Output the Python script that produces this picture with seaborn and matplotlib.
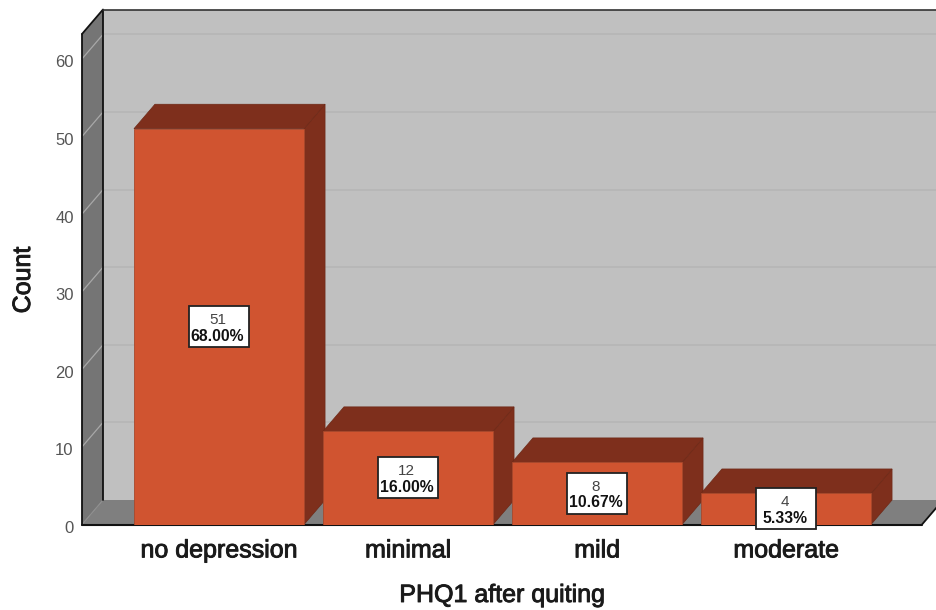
import matplotlib
matplotlib.use("Agg")
import matplotlib.pyplot as plt
import matplotlib.patheffects as pe
from matplotlib.patches import Polygon, Rectangle
from matplotlib.transforms import ScaledTranslation
import seaborn as sns

categories = ["no depression", "minimal", "mild", "moderate"]
counts = [51, 12, 8, 4]
percents = ["68.00%", "16.00%", "10.67%", "5.33%"]
y_ticks = [0, 10, 20, 30, 40, 50, 60]

FRONT = "#d05430"
SHADE = "#7e2f1c"
WALL = "#c0c0c0"
GRID = "#b7b7b7"
SIDE_WALL = "#757575"
FLOOR = "#7f7f7f"
FONT = "Liberation Sans"

sns.set_theme(style="white")
plt.rcParams["font.family"] = [FONT, "DejaVu Sans"]

W, H = 936, 610
fig = plt.figure(figsize=(W / 100, H / 100), dpi=100, facecolor="white")

# Front plane of the 3D box, laid out in pixels
left, right, base, top = 82, 922, 524.5, 34
ax = fig.add_axes([left / W, (H - base) / H, (right - left) / W, (base - top) / H])
ax.patch.set_visible(False)

sns.barplot(x=categories, y=counts, width=0.9, color=FRONT, saturation=1,
            edgecolor="#a8482b", linewidth=0.6, zorder=4, ax=ax)

step = 189.0
unit = 7.76
ax.set_xlim((left - 219) / step, (right - 219) / step)
ax.set_ylim(0, (base - top) / unit)
xmin, xmax = ax.get_xlim()
ymax = ax.get_ylim()[1]

# Depth of the box, expressed in data units
dx = 21 / step
dy = 24.5 / unit


def poly(pts, face, z, edge="none", lw=0):
    ax.add_patch(Polygon(pts, closed=True, facecolor=face, edgecolor=edge,
                         linewidth=lw, zorder=z, clip_on=False))


def line(xs, ys, color, lw, z):
    ax.plot(xs, ys, color=color, lw=lw, zorder=z, clip_on=False,
            solid_capstyle="round")


# Box walls
poly([(xmin + dx, dy), (xmax + dx, dy), (xmax + dx, ymax + dy), (xmin + dx, ymax + dy)], WALL, 0)
poly([(xmin, 0), (xmin + dx, dy), (xmin + dx, ymax + dy), (xmin, ymax)], SIDE_WALL, 0.5)
poly([(xmin, 0), (xmax, 0), (xmax + dx, dy), (xmin + dx, dy)], FLOOR, 0.5)

# Gridlines run across the back wall and fold down the side wall
for v in y_ticks[1:]:
    line([xmin + dx, xmax + dx], [v + dy, v + dy], GRID, 1.3, 1)
    line([xmin, xmin + dx], [v, v + dy], "#a8a8a8", 0.9, 1)
line([xmin, xmin + dx], [0, dy], "#8e8e8e", 0.8, 1)

# Box outline
line([xmin + dx, xmin + dx], [dy, ymax + dy], "#111111", 1.3, 2)
line([xmin, xmin], [0, ymax], "#111111", 1.3, 2)
line([xmin, xmin + dx], [ymax, ymax + dy], "#111111", 1.3, 2)
line([xmin + dx, xmax + dx], [ymax + dy, ymax + dy], "#333333", 1.2, 2)
line([xmin, xmax], [0, 0], "#111111", 1.5, 2)
line([xmax, xmax + dx], [0, dy], "#111111", 1.3, 2)

# Bar depth faces and value labels
half = 0.45
box_w = 60 / step
box_h = 41 / unit
for i, (n, pct) in enumerate(zip(counts, percents)):
    x0, x1 = i - half, i + half
    poly([(x1, 0), (x1 + dx, dy), (x1 + dx, n + dy), (x1, n)], SHADE, 3, "#6e2917", 0.5)
    poly([(x0, n), (x1, n), (x1 + dx, n + dy), (x0 + dx, n + dy)], SHADE, 3, "#6e2917", 0.5)
    ax.add_patch(Rectangle((i - box_w / 2, n / 2 - box_h / 2), box_w, box_h,
                           facecolor="white", edgecolor="#222222", linewidth=1.3,
                           zorder=6, clip_on=False))
    ax.annotate(str(n), (i, n / 2), xytext=(-1, 5), textcoords="offset points",
                ha="center", va="center", fontsize=11, color="#444444", zorder=7,
                annotation_clip=False)
    ax.annotate(pct, (i, n / 2), xytext=(-1, -6.8), textcoords="offset points",
                ha="center", va="center", fontsize=11.3, fontweight="bold",
                color="#111111", zorder=7, annotation_clip=False)

sns.despine(ax=ax, left=True, bottom=True, top=True, right=True)
ax.set_yticks(y_ticks)
ax.set_yticklabels([str(t) for t in y_ticks])
ax.set_xlabel("")
ax.set_ylabel("")
ax.tick_params(axis="y", length=0, pad=6, labelsize=12, labelcolor="#555555")
ax.tick_params(axis="x", length=0, pad=10, labelsize=18, labelcolor="#1a1a1a")
ax.grid(False)

# Regular letterforms thickened with a thin stroke for a medium weight
heavier = [pe.withStroke(linewidth=0.65, foreground="#1a1a1a")]

shift = ScaledTranslation(0, -2.5 / 100, fig.dpi_scale_trans)
for lab in ax.get_yticklabels():
    lab.set_transform(lab.get_transform() + shift)
for lab in ax.get_xticklabels():
    lab.set_path_effects(heavier)

fig.text(23 / W, (H - 280) / H, "Count", rotation=90, ha="center", va="center",
         fontsize=18, color="#1a1a1a", path_effects=heavier)
fig.text(502 / W, (H - 595) / H, "PHQ1 after quiting", ha="center", va="center",
         fontsize=18, color="#1a1a1a", path_effects=heavier)

fig.savefig("out.png", dpi=100, facecolor="white")
